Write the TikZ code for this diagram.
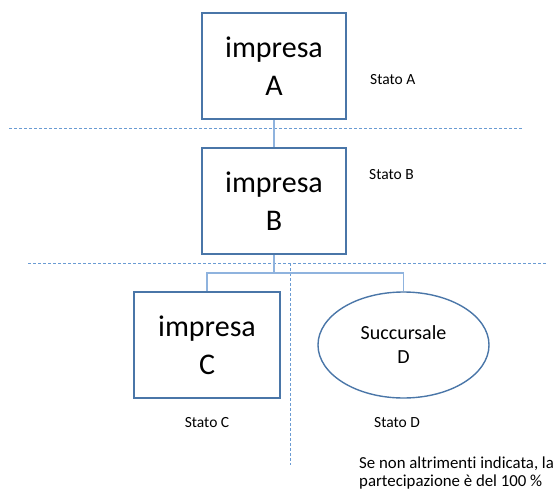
\documentclass[tikz,border=0pt]{standalone}
\usepackage{fontspec}
\setmainfont{Carlito}[Ligatures=NoCommon]
\usetikzlibrary{shapes.geometric}
\definecolor{boxblue}{HTML}{4A76A8}
\definecolor{linkblue}{HTML}{8FB3DE}
\definecolor{dashblue}{HTML}{6A9BD3}
\tikzset{
  firm/.style={draw=boxblue, line width=1.6bp, minimum width=144bp, minimum height=106bp, inner sep=0pt, align=center, font=\fontsize{30bp}{38bp}\selectfont},
  branch/.style={ellipse, draw=boxblue, line width=1.4bp, minimum width=171bp, minimum height=106bp, inner sep=0pt, align=center, font=\fontsize{20bp}{24bp}\selectfont},
  link/.style={draw=linkblue, line width=1.4bp},
  border/.style={draw=dashblue, line width=0.9bp, dash pattern=on 3bp off 2bp},
  lbl/.style={font=\fontsize{15.5bp}{18bp}\selectfont, inner sep=0pt},
  note/.style={font=\fontsize{16.8bp}{18bp}\selectfont, inner sep=0pt}
}
\begin{document}
\begin{tikzpicture}[x=1bp,y=-1bp]
\useasboundingbox (0,0) rectangle (557,491);
% state borders
\coordinate (h1l) at (9,128);
\coordinate (h1r) at (522,128);
\coordinate (h2l) at (28,263);
\coordinate (h2r) at (548,263);
\coordinate (vt) at (290,263);
\coordinate (vb) at (290,465);
\draw[border] (h1l) -- (h1r);
\draw[border] (h2l) -- (h2r);
\draw[border] (vt) -- (vb);
% nodes
\node[firm] (A) at (274,66) {impresa\\A};
\node[firm] (B) at (274,201) {impresa\\B};
\node[firm, minimum width=146bp] (C) at (207,345) {impresa\\C};
\node[branch] (D) at (403.5,345) {Succursale\\D};
% connectors
\coordinate (j) at (274,273);
\draw[link] (A.south) -- (B.north);
\draw[link] (B.south) -- (j);
\draw[link] (j) -| (C.north);
\draw[link] (j) -| (D.north);
% labels
\node[lbl, anchor=base west] (sA) at (370,85) {Stato A};
\node[lbl, anchor=base west] (sB) at (369,180) {Stato B};
\node[lbl, anchor=base] (sC) at (207,427) {Stato C};
\node[lbl, anchor=base] (sD) at (397,427) {Stato D};
\node[note, anchor=base west] (n1) at (359,468) {Se non altrimenti indicata, la};
\node[note, anchor=base west] (n2) at (359,486) {partecipazione è del 100 \%};
\end{tikzpicture}
\end{document}
